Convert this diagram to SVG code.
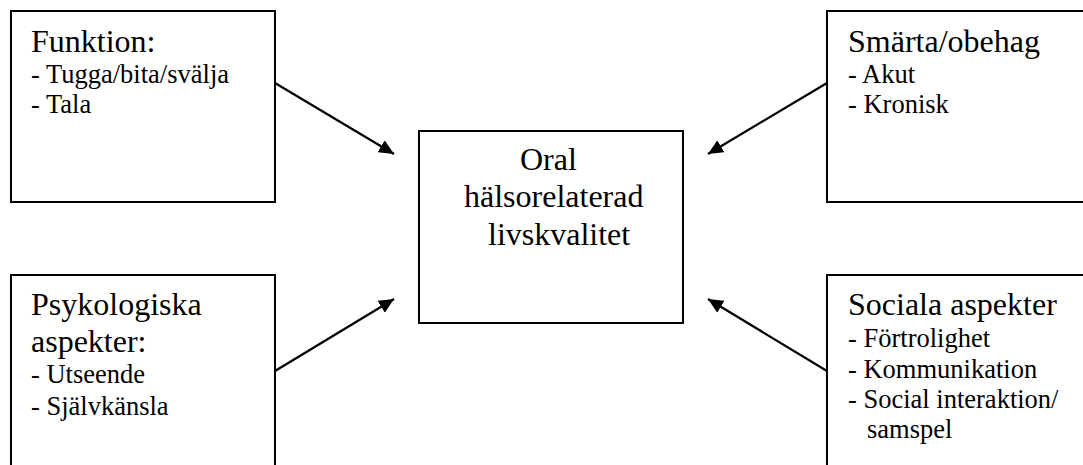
<svg xmlns="http://www.w3.org/2000/svg" width="1083" height="465" viewBox="0 0 1083 465">
<style>
.box{fill:#fff;stroke:#000;stroke-width:2}
text{font-family:'Liberation Serif','Times New Roman',serif;fill:#000}
.h{font-size:32px}
.i{font-size:26.5px}
.c{stroke:#000;stroke-width:2.2;fill:none;marker-end:url(#ah)}
</style>
<defs>
<marker id="ah" markerUnits="userSpaceOnUse" markerWidth="16" markerHeight="14" refX="15" refY="7" orient="auto">
<path d="M0,0 L15,7 L0,14 z" fill="#000"/>
</marker>
</defs>
<rect width="1083" height="465" fill="#fff"/>
<g id="connectors">
<line class="c" x1="275" y1="83" x2="394" y2="154"/>
<line class="c" x1="275" y1="371" x2="394" y2="299"/>
<line class="c" x1="827" y1="83" x2="708" y2="154"/>
<line class="c" x1="827" y1="371" x2="708" y2="299"/>
</g>
<g id="funktion">
<rect class="box" x="11" y="11" width="264" height="191"/>
<text class="h" x="31" y="52">Funktion:</text>
<text class="i" x="31" y="83">- Tugga/bita/svälja</text>
<text class="i" x="31" y="113">- Tala</text>
</g>
<g id="smarta">
<rect class="box" x="827" y="11" width="270" height="191"/>
<text class="h" x="848" y="52">Smärta/obehag</text>
<text class="i" x="848" y="83">- Akut</text>
<text class="i" x="848" y="113">- Kronisk</text>
</g>
<g id="psykologiska">
<rect class="box" x="11" y="275" width="264" height="200"/>
<text class="h" x="31" y="315">Psykologiska</text>
<text class="h" x="31" y="352">aspekter:</text>
<text class="i" x="31" y="383">- Utseende</text>
<text class="i" x="31" y="415">- Självkänsla</text>
</g>
<g id="sociala">
<rect class="box" x="827" y="275" width="270" height="200"/>
<text class="h" x="848" y="315">Sociala aspekter</text>
<text class="i" x="848" y="347">- Förtrolighet</text>
<text class="i" x="848" y="378">- Kommunikation</text>
<text class="i" x="848" y="408">- Social interaktion/</text>
<text class="i" x="867" y="438">samspel</text>
</g>
<g id="center">
<rect class="box" x="419" y="131" width="264" height="192"/>
<text class="h" x="520" y="170">Oral</text>
<text class="h" x="464" y="207">hälsorelaterad</text>
<text class="h" x="488" y="245">livskvalitet</text>
</g>
</svg>
